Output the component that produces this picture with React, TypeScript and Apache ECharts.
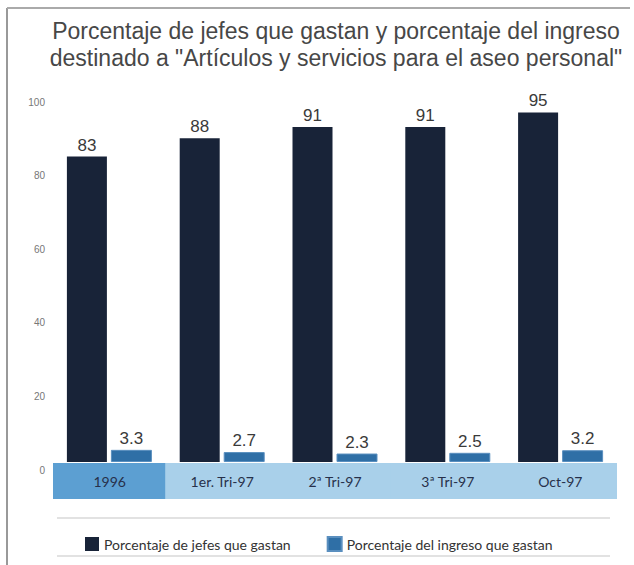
import React, { useEffect, useRef } from "react";
import * as echarts from "echarts";

const titleLines = [
  "Porcentaje de jefes que gastan y porcentaje del ingreso",
  "destinado a \"Artículos y servicios para el aseo personal\"",
];
const categories = ["1996", "1er. Tri-97", "2ª Tri-97", "3ª Tri-97", "Oct-97"];
const seriesNames = ["Porcentaje de jefes que gastan", "Porcentaje del ingreso que gastan"];
const jefesValues = [83, 88, 91, 91, 95];
const ingresoValues = [3.3, 2.7, 2.3, 2.5, 3.2];
const yTicks = [0, 20, 40, 60, 80, 100];
const bandValues = [1, 1, 1, 1, 1];

const DARK = "#182338";
const BLUE = "#2f6fa6";

export default function App() {
  const ref = useRef<HTMLDivElement>(null);
  useEffect(() => {
    if (!ref.current) return;
    const chart = echarts.init(ref.current, undefined, { renderer: "svg" });
    const valueLabel = {
      show: true,
      position: "top" as const,
      distance: 3,
      color: "#3a3a3a",
      fontSize: 17,
      fontFamily: "Liberation Sans, Arial, sans-serif",
    };
    chart.setOption({
      animation: false,
      backgroundColor: "#ffffff",
      title: {
        text: titleLines.join("\n"),
        left: 331,
        textAlign: "center",
        top: 12,
        textStyle: {
          fontSize: 23,
          fontWeight: "normal",
          color: "#474747",
          lineHeight: 27,
          fontFamily: "Liberation Sans, Arial, sans-serif",
        },
      },
      legend: {
        data: seriesNames,
        left: 80,
        top: 531,
        itemWidth: 14,
        itemHeight: 14,
        itemGap: 36,
        icon: "rect",
        textStyle: {
          fontSize: 14,
          color: "#333",
          fontFamily: "Lato, sans-serif",
        },
      },
      graphic: [
        { type: "line", shape: { x1: 7, y1: 8, x2: 7, y2: 565 }, style: { stroke: "#999", lineWidth: 2 } },
        { type: "line", shape: { x1: 7, y1: 8, x2: 630, y2: 8 }, style: { stroke: "#aaa", lineWidth: 2 } },
        { type: "line", shape: { x1: 57, y1: 518, x2: 610, y2: 518 }, style: { stroke: "#e2e2e2", lineWidth: 2 } },
        { type: "line", shape: { x1: 57, y1: 556, x2: 610, y2: 556 }, style: { stroke: "#e2e2e2", lineWidth: 2 } },
      ],
      grid: [
        { left: 53, right: 17, top: 94, height: 368 },
        { left: 53, right: 17, top: 463, height: 36 },
      ],
      xAxis: [
        {
          type: "category",
          data: categories,
          gridIndex: 0,
          axisLine: { show: false },
          axisTick: { show: false },
          axisLabel: { show: false },
        },
        {
          type: "category",
          data: categories,
          gridIndex: 1,
          axisLine: { show: false },
          axisTick: { show: false },
          axisLabel: { show: false },
        },
      ],
      yAxis: [
        {
          type: "value",
          gridIndex: 0,
          min: yTicks[0],
          max: yTicks[yTicks.length - 1],
          interval: 20,
          splitLine: { show: false },
          axisLine: { show: false },
          axisTick: { show: false },
          axisLabel: {
            color: "#777",
            fontSize: 10,
            margin: 8,
            verticalAlign: "top",
            padding: [3, 0, 0, 0],
            fontFamily: "Liberation Sans, Arial, sans-serif",
          },
        },
        { type: "value", gridIndex: 1, min: 0, max: 1, show: false },
      ],
      series: [
        {
          name: seriesNames[0],
          type: "bar",
          xAxisIndex: 0,
          yAxisIndex: 0,
          data: jefesValues,
          barWidth: 40,
          barGap: "10%",
          itemStyle: { color: DARK },
          label: valueLabel,
        },
        {
          name: seriesNames[1],
          type: "bar",
          xAxisIndex: 0,
          yAxisIndex: 0,
          data: ingresoValues,
          barWidth: 41,
          itemStyle: { color: BLUE, borderColor: "#5a8fbf", borderWidth: 1 },
          label: valueLabel,
        },
        {
          name: "band",
          type: "bar",
          xAxisIndex: 1,
          yAxisIndex: 1,
          data: bandValues.map((v, i) => {
            const c = i === 0 ? "#5c9fd2" : "#a9d0ea";
            return { value: v, itemStyle: { color: c } };
          }),
          barWidth: 114,
          silent: true,
          label: {
            show: true,
            position: "inside",
            formatter: (p: any) => p.name,
            color: "#27304a",
            fontSize: 14,
            fontFamily: "Lato, sans-serif",
          },
        },
      ],
    });
    return () => chart.dispose();
  }, []);
  return (
    <div
      ref={ref}
      style={{ position: "fixed", left: 0, top: 0, width: 634, height: 565 }}
    />
  );
}
